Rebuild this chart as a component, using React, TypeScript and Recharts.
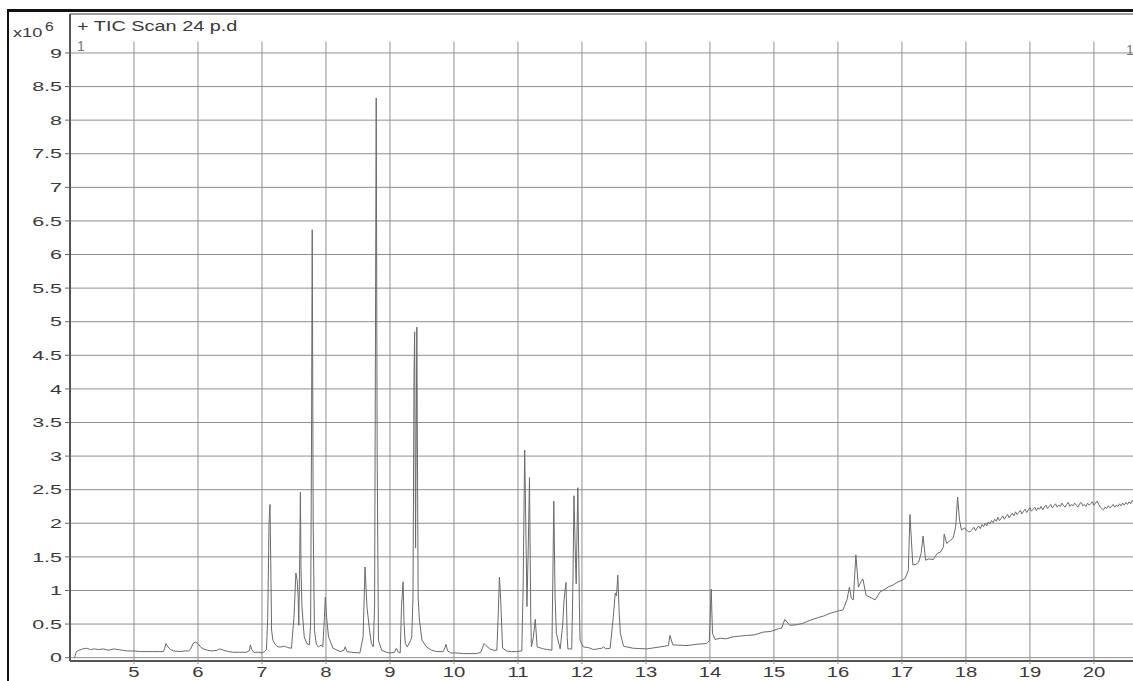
import React from "react"
import {
  LineChart,
  Line,
  XAxis,
  YAxis,
  CartesianGrid,
  ReferenceLine,
} from "recharts"

// retention time (min), rows of 10
const retentionTime = [
  4.07, 4.10, 4.14, 4.20, 4.26, 4.32, 4.38, 4.45, 4.52, 4.60,
  4.68, 4.75, 4.82, 4.90, 5.00, 5.10, 5.20, 5.30, 5.40, 5.46,
  5.48, 5.50, 5.53, 5.57, 5.62, 5.72, 5.80, 5.85, 5.88, 5.93,
  5.96, 6.00, 6.04, 6.08, 6.15, 6.22, 6.30, 6.34, 6.40, 6.48,
  6.55, 6.65, 6.75, 6.80, 6.82, 6.84, 6.87, 6.95, 7.00, 7.04,
  7.07, 7.09, 7.11, 7.125, 7.14, 7.15, 7.17, 7.21, 7.25, 7.30,
  7.35, 7.40, 7.46, 7.50, 7.53, 7.55, 7.565, 7.575, 7.59, 7.60,
  7.61, 7.625, 7.66, 7.70, 7.74, 7.76, 7.775, 7.785, 7.80, 7.82,
  7.85, 7.88, 7.93, 7.95, 7.97, 7.99, 8.01, 8.04, 8.11, 8.22,
  8.28, 8.30, 8.33, 8.40, 8.53, 8.58, 8.60, 8.61, 8.64, 8.68,
  8.71, 8.74, 8.76, 8.785, 8.80, 8.82, 8.87, 8.95, 9.00, 9.07,
  9.10, 9.13, 9.16, 9.18, 9.205, 9.22, 9.24, 9.27, 9.32, 9.34,
  9.36, 9.375, 9.385, 9.40, 9.42, 9.44, 9.46, 9.50, 9.57, 9.65,
  9.73, 9.83, 9.86, 9.875, 9.90, 9.95, 10.05, 10.15, 10.25, 10.35,
  10.42, 10.47, 10.50, 10.56, 10.62, 10.67, 10.69, 10.71, 10.73, 10.76,
  10.82, 10.90, 10.98, 11.06, 11.08, 11.105, 11.13, 11.14, 11.16, 11.18,
  11.20, 11.21, 11.24, 11.27, 11.30, 11.40, 11.53, 11.545, 11.56, 11.58,
  11.60, 11.66, 11.70, 11.72, 11.75, 11.77, 11.78, 11.84, 11.86, 11.875,
  11.90, 11.91, 11.935, 11.96, 11.97, 12.02, 12.10, 12.18, 12.31, 12.34,
  12.37, 12.44, 12.49, 12.52, 12.54, 12.56, 12.58, 12.60, 12.65, 12.80,
  13.01, 13.22, 13.35, 13.375, 13.42, 13.64, 13.80, 13.95, 13.99, 14.02,
  14.04, 14.08, 14.16, 14.25, 14.36, 14.46, 14.57, 14.70, 14.83, 14.95,
  15.07, 15.12, 15.17, 15.25, 15.35, 15.45, 15.52, 15.61, 15.70, 15.78,
  15.875, 15.95, 16.02, 16.08, 16.14, 16.18, 16.21, 16.24, 16.28, 16.32,
  16.36, 16.39, 16.44, 16.50, 16.58, 16.66, 16.72, 16.80, 16.86, 16.94,
  17.00, 17.05, 17.10, 17.125, 17.17, 17.22, 17.26, 17.30, 17.33, 17.37,
  17.42, 17.49, 17.55, 17.60, 17.65, 17.66, 17.70, 17.75, 17.80, 17.84,
  17.87, 17.90, 17.93, 17.98, 18.03, 18.06,
  18.100, 18.125, 18.150, 18.175, 18.200, 18.225, 18.250, 18.275, 18.300, 18.325,
  18.350, 18.375, 18.400, 18.425, 18.450, 18.475, 18.500, 18.525, 18.550, 18.575,
  18.600, 18.625, 18.650, 18.675, 18.700, 18.725, 18.750, 18.775, 18.800, 18.825,
  18.850, 18.875, 18.900, 18.925, 18.950, 18.975, 19.000, 19.025, 19.050, 19.075,
  19.100, 19.125, 19.150, 19.175, 19.200, 19.225, 19.250, 19.275, 19.300, 19.325,
  19.350, 19.375, 19.400, 19.425, 19.450, 19.475, 19.500, 19.525, 19.550, 19.575,
  19.600, 19.625, 19.650, 19.675, 19.700, 19.725, 19.750, 19.775, 19.800, 19.825,
  19.850, 19.875, 19.900, 19.925, 19.950, 19.975, 20.000, 20.025, 20.050, 20.075,
  20.100, 20.125, 20.150, 20.175, 20.200, 20.225, 20.250, 20.275, 20.300, 20.325,
  20.350, 20.375, 20.400, 20.425, 20.450, 20.475, 20.500, 20.525, 20.550, 20.575,
  20.600, 20.625, 20.650,
]

// TIC abundance (x10^6), same rows as above
const abundance = [
  0.00, 0.09, 0.11, 0.13, 0.14, 0.12, 0.13, 0.12, 0.13, 0.11,
  0.13, 0.12, 0.11, 0.10, 0.10, 0.09, 0.09, 0.09, 0.09, 0.09,
  0.14, 0.21, 0.16, 0.12, 0.10, 0.09, 0.10, 0.10, 0.12, 0.22,
  0.23, 0.21, 0.16, 0.13, 0.11, 0.10, 0.11, 0.13, 0.11, 0.09,
  0.08, 0.08, 0.08, 0.10, 0.19, 0.12, 0.08, 0.08, 0.07, 0.09,
  0.12, 0.60, 2.00, 2.28, 1.20, 0.41, 0.26, 0.19, 0.16, 0.16,
  0.17, 0.15, 0.14, 0.60, 1.26, 1.15, 0.90, 0.48, 1.50, 2.46,
  1.30, 0.75, 0.31, 0.21, 0.19, 0.50, 3.50, 6.37, 2.00, 0.40,
  0.20, 0.16, 0.19, 0.16, 0.50, 0.90, 0.60, 0.31, 0.14, 0.09,
  0.11, 0.16, 0.09, 0.08, 0.07, 0.31, 1.00, 1.35, 0.76, 0.41,
  0.21, 0.16, 0.80, 8.33, 3.00, 0.26, 0.11, 0.08, 0.07, 0.08,
  0.14, 0.08, 0.07, 0.76, 1.13, 0.50, 0.21, 0.16, 0.25, 0.31,
  0.90, 4.13, 4.85, 1.63, 4.92, 0.90, 0.56, 0.26, 0.16, 0.11,
  0.09, 0.09, 0.15, 0.20, 0.10, 0.07, 0.07, 0.06, 0.06, 0.06,
  0.08, 0.21, 0.18, 0.13, 0.11, 0.11, 0.60, 1.20, 0.86, 0.14,
  0.10, 0.09, 0.09, 0.10, 1.00, 3.09, 1.50, 0.76, 1.60, 2.68,
  0.60, 0.16, 0.30, 0.57, 0.16, 0.13, 0.11, 1.20, 2.33, 0.90,
  0.36, 0.13, 0.50, 0.86, 1.12, 0.30, 0.13, 0.13, 1.20, 2.41,
  1.40, 1.10, 2.53, 0.80, 0.26, 0.16, 0.15, 0.12, 0.14, 0.16,
  0.13, 0.14, 0.61, 0.96, 0.92, 1.23, 0.70, 0.36, 0.17, 0.14,
  0.13, 0.16, 0.18, 0.33, 0.19, 0.18, 0.20, 0.21, 0.25, 1.02,
  0.36, 0.27, 0.29, 0.28, 0.31, 0.32, 0.33, 0.34, 0.38, 0.39,
  0.43, 0.44, 0.57, 0.48, 0.49, 0.51, 0.54, 0.57, 0.60, 0.62,
  0.66, 0.68, 0.70, 0.71, 0.86, 1.05, 0.88, 0.86, 1.53, 1.05,
  1.13, 1.17, 0.93, 0.90, 0.86, 0.98, 1.01, 1.06, 1.08, 1.13,
  1.15, 1.18, 1.30, 2.13, 1.38, 1.39, 1.42, 1.55, 1.81, 1.45,
  1.47, 1.46, 1.55, 1.57, 1.65, 1.84, 1.70, 1.74, 1.78, 1.95,
  2.39, 2.05, 1.90, 1.93, 1.88, 1.87,
  1.91, 1.94, 1.89, 1.93, 1.96, 1.92, 1.98, 1.95, 2.00, 1.96,
  2.02, 1.99, 2.04, 2.01, 2.06, 2.03, 2.09, 2.04, 2.07, 2.11,
  2.06, 2.10, 2.13, 2.08, 2.12, 2.15, 2.11, 2.17, 2.13, 2.16,
  2.19, 2.14, 2.18, 2.21, 2.16, 2.20, 2.23, 2.18, 2.21, 2.24,
  2.19, 2.23, 2.21, 2.25, 2.20, 2.24, 2.27, 2.22, 2.25, 2.28,
  2.23, 2.26, 2.29, 2.24, 2.27, 2.25, 2.30, 2.26, 2.24, 2.28,
  2.31, 2.25, 2.28, 2.26, 2.30, 2.27, 2.24, 2.29, 2.31, 2.26,
  2.28, 2.25, 2.30, 2.27, 2.29, 2.32, 2.27, 2.30, 2.33, 2.28,
  2.24, 2.22, 2.20, 2.24, 2.22, 2.26, 2.23, 2.25, 2.28, 2.24,
  2.27, 2.25, 2.29, 2.26, 2.30, 2.27, 2.31, 2.28, 2.32, 2.29,
  2.34, 2.30, 2.33,
]

const xTicks = [5, 6, 7, 8, 9, 10, 11, 12, 13, 14, 15, 16, 17, 18, 19, 20]
const yTicks = [0, 0.5, 1, 1.5, 2, 2.5, 3, 3.5, 4, 4.5, 5, 5.5, 6, 6.5, 7, 7.5, 8, 8.5, 9]

const X_MIN = 4
const X_MAX = 20.72
const Y_MIN = -0.05
const Y_MAX = 9.58
const GRID_TOP = 9.17 // vertical grid stops below the title strip

const FONT = "'Liberation Sans', Arial, sans-serif"
const GRID = "#8f8f8f"
const INK = "#3a3a3a"

const data = retentionTime.map((t, i) => ({ t, v: abundance[i] }))

// scanned printout has horizontally stretched lettering
function YTick({ x, y, payload }: any) {
  return (
    <text
      transform={`translate(${x},${y}) scale(1.65,1)`}
      textAnchor="end"
      dy="0.36em"
      fontSize={13}
      fontFamily={FONT}
      fill={INK}
    >
      {payload.value}
    </text>
  )
}

function XTick({ x, y, payload }: any) {
  return (
    <text
      transform={`translate(${x},${y}) scale(1.45,1)`}
      textAnchor="middle"
      dy="0.71em"
      fontSize={14}
      fontFamily={FONT}
      fill={INK}
    >
      {payload.value}
    </text>
  )
}

export default function App() {
  return (
    <div
      style={{
        position: "absolute",
        left: 0,
        top: 0,
        width: 1133,
        height: 681,
        overflow: "hidden",
        background: "#fff",
        fontFamily: FONT,
      }}
    >
      <LineChart
        width={1145}
        height={681}
        data={data}
        margin={{ top: 14, right: 5, bottom: 0, left: 0 }}
      >
        <CartesianGrid vertical={false} stroke={GRID} strokeWidth={1} />
        {xTicks.map((t) => (
          <ReferenceLine
            key={t}
            segment={[
              { x: t, y: Y_MIN },
              { x: t, y: GRID_TOP },
            ]}
            stroke={GRID}
            strokeWidth={1}
          />
        ))}
        <ReferenceLine y={Y_MAX} stroke={GRID} strokeWidth={1.5} />
        <XAxis
          type="number"
          dataKey="t"
          domain={[X_MIN, X_MAX]}
          ticks={xTicks}
          allowDataOverflow
          height={20}
          tickSize={3}
          tickMargin={3}
          tick={<XTick />}
          axisLine={{ stroke: "#555", strokeWidth: 2 }}
          tickLine={{ stroke: GRID }}
        />
        <YAxis
          type="number"
          domain={[Y_MIN, Y_MAX]}
          ticks={yTicks}
          allowDataOverflow
          width={70}
          tickSize={5}
          tickMargin={3}
          tick={<YTick />}
          axisLine={{ stroke: "#555", strokeWidth: 2 }}
          tickLine={{ stroke: "#666" }}
        />
        <Line
          type="linear"
          dataKey="v"
          stroke="#6a6a6a"
          strokeWidth={1}
          dot={false}
          isAnimationActive={false}
        />
      </LineChart>

      {/* scan frame */}
      <div style={{ position: "absolute", left: 7, top: 9, width: 1126, height: 3, background: "#111" }} />
      <div style={{ position: "absolute", left: 7, top: 9, width: 2, height: 672, background: "#111" }} />

      <div
        style={{
          position: "absolute",
          left: 77,
          top: 18,
          fontSize: 14,
          color: INK,
          whiteSpace: "nowrap",
          transform: "scaleX(1.42)",
          transformOrigin: "left top",
        }}
      >
        + TIC Scan 24 p.d
      </div>
      <div
        style={{
          position: "absolute",
          left: 13,
          top: 25,
          fontSize: 13,
          color: INK,
          whiteSpace: "nowrap",
          transform: "scaleX(1.4)",
          transformOrigin: "left top",
        }}
      >
        x10
      </div>
      <div
        style={{
          position: "absolute",
          left: 45,
          top: 20,
          fontSize: 12,
          color: INK,
          transform: "scaleX(1.3)",
          transformOrigin: "left top",
        }}
      >
        6
      </div>
      <div style={{ position: "absolute", left: 77, top: 38, fontSize: 14, color: "#777" }}>1</div>
      <div style={{ position: "absolute", left: 1126, top: 42, fontSize: 14, color: "#777" }}>1</div>
    </div>
  )
}
